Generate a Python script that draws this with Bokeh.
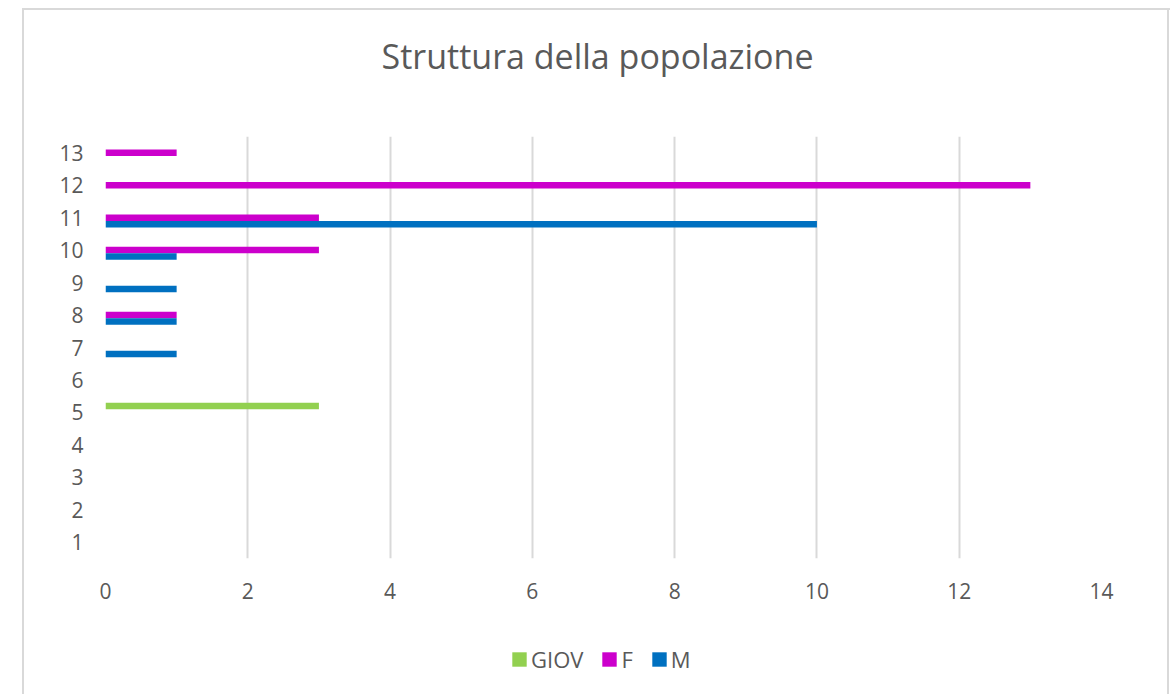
from bokeh.plotting import figure
from bokeh.layouts import column
from bokeh.models import (Range1d, FixedTicker, Legend, LegendItem, ColumnDataSource, Label)
from bokeh.transform import dodge
from bokeh.embed import file_html
from bokeh.resources import INLINE

# ---- data ----
categories = [1, 2, 3, 4, 5, 6, 7, 8, 9, 10, 11, 12, 13]
giov = [0, 0, 0, 0, 3, 0, 0, 0, 0, 0, 0, 0, 0]
f_vals = [0, 0, 0, 0, 0, 0, 0, 1, 0, 3, 3, 13, 1]
m_vals = [0, 0, 0, 0, 0, 0, 1, 1, 1, 1, 10, 0, 0]
x_ticks = [0, 2, 4, 6, 8, 10, 12, 14]
series_names = ["GIOV", "F", "M"]
series_colors = ["#92D050", "#CC00CC", "#0070C0"]
title_text = "Struttura della popolazione"

FONT = "Open Sans"
TXT = "#595959"
BORDER = "#D9D9D9"

source = ColumnDataSource(dict(y=categories, GIOV=giov, F=f_vals, M=m_vals))


def strip(height):
    f = figure(width=1174, height=height, x_range=Range1d(0, 1), y_range=Range1d(0, 1),
               x_axis_type=None, y_axis_type=None, output_backend="svg",
               toolbar_location=None, min_border=0)
    f.border_fill_color = None
    f.background_fill_color = None
    f.outline_line_color = None
    f.grid.visible = False
    return f


# ---- title strip ----
t = strip(110)
t.add_layout(Label(x=0.494, y=0.498, text=title_text, text_align="center",
                   text_baseline="middle", text_font=FONT, text_font_size="34px",
                   text_color=TXT))

# ---- main chart ----
p = figure(width=1174, height=510,
           x_range=Range1d(0, 14), y_range=Range1d(0.5, 13.5),
           output_backend="svg", toolbar_location=None,
           min_border_left=105, min_border_right=73,
           min_border_top=26, min_border_bottom=62)
p.border_fill_color = None
p.background_fill_color = None

offsets = [0.2, 0.0, -0.2]
for name, color, off in zip(series_names, series_colors, offsets):
    p.hbar(y=dodge("y", off, range=p.y_range), left=0, right=name, height=0.2,
           source=source, fill_color=color, line_color=color, line_alpha=0.0)

p.xaxis.ticker = FixedTicker(ticks=x_ticks)
p.yaxis.ticker = FixedTicker(ticks=categories)
for ax in (p.xaxis, p.yaxis):
    ax.axis_line_color = None
    ax.major_tick_line_color = None
    ax.minor_tick_line_color = None
    ax.major_label_text_font = FONT
    ax.major_label_text_font_size = "21px"
    ax.major_label_text_color = TXT
p.xaxis.major_label_standoff = 18
p.yaxis.major_label_standoff = 16

p.ygrid.grid_line_color = None
p.xgrid.grid_line_color = BORDER
p.xgrid.grid_line_width = 2
p.outline_line_color = None

# ---- legend strip ----
q = strip(74)
items = []
for name, color in zip(series_names, series_colors):
    # swatch renderers kept outside the visible range; only used by the legend
    r = q.hbar(y=[-5], left=[-6], right=[-5], height=0.2, fill_color=color,
               line_color=color, line_alpha=0.0)
    items.append(LegendItem(label=name, renderers=[r]))

legend = Legend(items=items, orientation="horizontal", location=(405, 20),
                glyph_width=18, glyph_height=18, label_standoff=3, spacing=17,
                label_width=0, padding=0, margin=0,
                label_text_font=FONT, label_text_font_size="22px",
                label_text_color=TXT, border_line_color=None,
                background_fill_alpha=0.0)
q.add_layout(legend)

g = f"linear-gradient({BORDER},{BORDER})"
layout = column(t, p, q, spacing=0)
layout.styles = {
    "background": (f"{g} 22px 8px / 1148px 2px no-repeat, "
                   f"{g} 22px 8px / 2px 700px no-repeat, "
                   f"{g} 1167px 8px / 2px 700px no-repeat, white"),
}

open("out.html", "w").write(file_html(layout, INLINE))
